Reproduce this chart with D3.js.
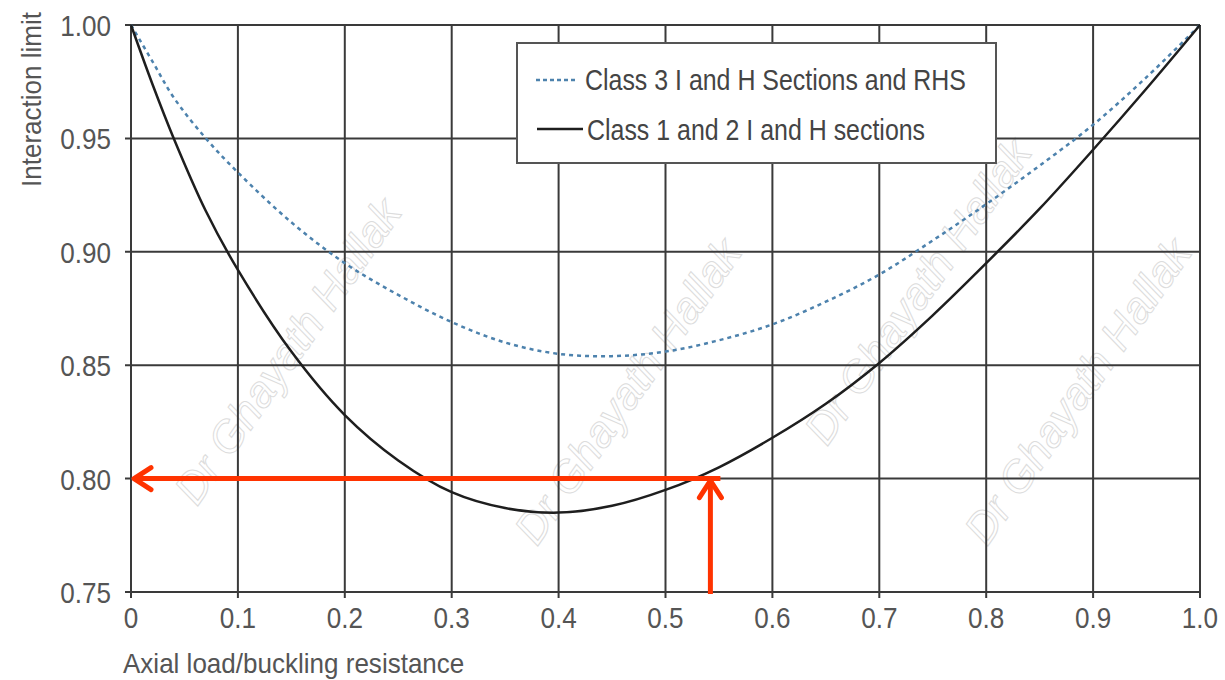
<!DOCTYPE html>
<html>
<head>
<meta charset="utf-8">
<script src="https://cdn.jsdelivr.net/npm/d3@7"></script>
<style>
  body { margin: 0; background: #fff; }
  text { font-family: "Liberation Sans Narrow", "Arial Narrow", "Liberation Sans", Arial, sans-serif; }
</style>
</head>
<body>
<script>
// x values: axial load / buckling resistance
var xValues = [0, 0.02, 0.04, 0.07, 0.1, 0.15, 0.2, 0.25, 0.3, 0.35, 0.4, 0.45, 0.5, 0.55, 0.6, 0.65, 0.7, 0.75, 0.8, 0.85, 0.9, 0.95, 1.0];
// Class 1 and 2 I and H sections (solid)
var class12 = [1.0, 0.974, 0.95, 0.918, 0.892, 0.856, 0.828, 0.808, 0.794, 0.787, 0.785, 0.788, 0.795, 0.805, 0.818, 0.833, 0.851, 0.872, 0.895, 0.919, 0.945, 0.972, 1.0];
// Class 3 I and H sections and RHS (dotted)
var class3 = [1.0, 0.984, 0.968, 0.95, 0.935, 0.913, 0.895, 0.881, 0.869, 0.86, 0.855, 0.854, 0.856, 0.861, 0.868, 0.878, 0.89, 0.905, 0.921, 0.938, 0.956, 0.977, 1.0];

var xTicks = [0, 0.1, 0.2, 0.3, 0.4, 0.5, 0.6, 0.7, 0.8, 0.9, 1.0];
var xTickLabels = ["0", "0.1", "0.2", "0.3", "0.4", "0.5", "0.6", "0.7", "0.8", "0.9", "1.0"];
var yTicks = [0.75, 0.80, 0.85, 0.90, 0.95, 1.00];
var yTickLabels = ["0.75", "0.80", "0.85", "0.90", "0.95", "1.00"];

var legendLabels = ["Class 3 I and H Sections and RHS", "Class 1 and 2 I and H sections"];

// red reading arrows
var readX = 0.542;
var readY = 0.80;

var watermark = "Dr Ghayath Hallak";

function init() {
    var w = 1225;
    var h = 680;
    var left = 131, right = 1200, top = 25, bottom = 592;
    var gridColor = "#3a3a3a";
    var textColor = "#555";

    var svg = d3.select("body").append("svg")
        .attr("width", w)
        .attr("height", h);

    var xScale = d3.scaleLinear().domain([0, 1]).range([left, right]);
    var yScale = d3.scaleLinear().domain([0.75, 1]).range([bottom, top]);

    // watermark (faint outlined text)
    var wmPos = [[300, 360], [640, 400], [930, 300], [1090, 400]];
    svg.append("g").selectAll("text")
        .data(wmPos)
        .enter().append("text")
        .attr("transform", function(d) { return "translate(" + d[0] + "," + d[1] + ") rotate(-55)"; })
        .attr("text-anchor", "middle")
        .attr("font-family", "DejaVu Serif, serif")
        .attr("font-style", "italic")
        .attr("font-size", 44)
        .attr("fill", "none")
        .attr("stroke", "#dcdcdc")
        .attr("stroke-width", 1)
        .text(watermark);

    // grid
    svg.append("g")
        .selectAll("line")
        .data(xTicks)
        .enter().append("line")
        .attr("x1", function(d) { return xScale(d); })
        .attr("x2", function(d) { return xScale(d); })
        .attr("y1", top)
        .attr("y2", bottom + 6)
        .attr("stroke", gridColor)
        .attr("stroke-width", 2);

    svg.append("g")
        .selectAll("line")
        .data(yTicks)
        .enter().append("line")
        .attr("x1", left - 6)
        .attr("x2", right)
        .attr("y1", function(d) { return yScale(d); })
        .attr("y2", function(d) { return yScale(d); })
        .attr("stroke", gridColor)
        .attr("stroke-width", 2);

    // tick labels
    svg.append("g")
        .selectAll("text")
        .data(xTicks)
        .enter().append("text")
        .attr("transform", function(d) { return "translate(" + xScale(d) + ",628) scale(0.9,1)"; })
        .attr("text-anchor", "middle")
        .attr("font-size", 29)
        .attr("fill", textColor)
        .text(function(d, i) { return xTickLabels[i]; });

    svg.append("g")
        .selectAll("text")
        .data(yTicks)
        .enter().append("text")
        .attr("transform", function(d) { return "translate(111," + (yScale(d) + 11) + ") scale(0.9,1)"; })
        .attr("text-anchor", "end")
        .attr("font-size", 29)
        .attr("fill", textColor)
        .text(function(d, i) { return yTickLabels[i]; });

    // axis titles
    svg.append("text")
        .attr("transform", "translate(123,673) scale(0.93,1)")
        .attr("font-size", 28)
        .attr("fill", textColor)
        .text("Axial load/buckling resistance");

    svg.append("text")
        .attr("transform", "translate(41,12) rotate(-90) scale(0.93,1)")
        .attr("text-anchor", "end")
        .attr("font-size", 28)
        .attr("fill", textColor)
        .text("Interaction limit");

    // curves
    var line = d3.line()
        .x(function(d) { return xScale(d[0]); })
        .y(function(d) { return yScale(d[1]); })
        .curve(d3.curveCatmullRom);

    svg.append("path")
        .datum(d3.zip(xValues, class3))
        .attr("d", line)
        .attr("fill", "none")
        .attr("stroke", "#4d82ad")
        .attr("stroke-width", 2.5)
        .attr("stroke-dasharray", "4,4");

    svg.append("path")
        .datum(d3.zip(xValues, class12))
        .attr("d", line)
        .attr("fill", "none")
        .attr("stroke", "#1e1e1e")
        .attr("stroke-width", 2.5);

    // red reading arrows
    var red = "#ff3300";
    var px = xScale(readX), py = yScale(readY);
    svg.append("line")
        .attr("x1", xScale(0) + 3).attr("x2", px + 10)
        .attr("y1", py).attr("y2", py)
        .attr("stroke", red).attr("stroke-width", 5);
    svg.append("polyline")
        .attr("points", [[xScale(0) + 20, py - 11], [xScale(0) + 3, py], [xScale(0) + 20, py + 11]].join(" "))
        .attr("fill", "none").attr("stroke", red).attr("stroke-width", 5)
        .attr("stroke-linecap", "round").attr("stroke-linejoin", "round");
    svg.append("line")
        .attr("x1", px).attr("x2", px)
        .attr("y1", yScale(0.75) + 2).attr("y2", py + 2)
        .attr("stroke", red).attr("stroke-width", 5);
    svg.append("polyline")
        .attr("points", [[px - 11, py + 19], [px, py + 2], [px + 11, py + 19]].join(" "))
        .attr("fill", "none").attr("stroke", red).attr("stroke-width", 5)
        .attr("stroke-linecap", "round").attr("stroke-linejoin", "round");

    // legend
    var lg = svg.append("g");
    lg.append("rect")
        .attr("x", 517).attr("y", 43)
        .attr("width", 479).attr("height", 120)
        .attr("fill", "#fff")
        .attr("stroke", "#555")
        .attr("stroke-width", 2);
    lg.append("line")
        .attr("x1", 536).attr("x2", 577)
        .attr("y1", 80).attr("y2", 80)
        .attr("stroke", "#4d82ad").attr("stroke-width", 2.5)
        .attr("stroke-dasharray", "4,3");
    lg.append("line")
        .attr("x1", 537).attr("x2", 583)
        .attr("y1", 129).attr("y2", 129)
        .attr("stroke", "#1e1e1e").attr("stroke-width", 2.5);
    lg.append("text")
        .attr("transform", "translate(585,90) scale(0.86,1)")
        .attr("font-size", 29).attr("fill", "#444")
        .text(legendLabels[0]);
    lg.append("text")
        .attr("transform", "translate(587,140) scale(0.86,1)")
        .attr("font-size", 29).attr("fill", "#444")
        .text(legendLabels[1]);
}

window.onload = init;
</script>
</body>
</html>
